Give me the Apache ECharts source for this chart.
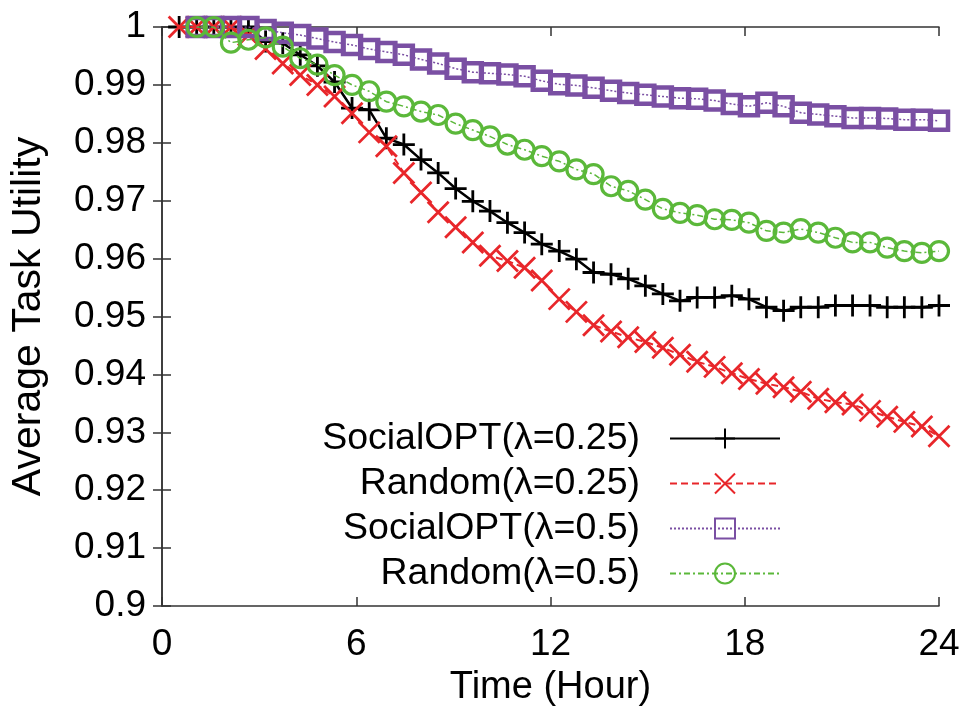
<!DOCTYPE html>
<html>
<head>
<meta charset="utf-8">
<script src="https://cdn.jsdelivr.net/npm/echarts@6/dist/echarts.min.js"></script>
<style>html,body{margin:0;padding:0;background:#fff}#c{width:970px;height:712px}</style>
</head>
<body>
<div id="c"></div>
<script>
// Time (hour) of each sample
const hours = [0.53,1.07,1.6,2.13,2.67,3.2,3.73,4.27,4.8,5.33,5.87,6.4,6.93,7.47,8,8.53,9.07,9.6,10.13,10.67,11.2,11.73,12.27,12.8,13.33,13.87,14.4,14.93,15.47,16,16.53,17.07,17.6,18.13,18.67,19.2,19.73,20.27,20.8,21.33,21.87,22.4,22.93,23.47,24];

const socialOpt025 = [1.0,1.0,1.0,1.0,1.0,0.9975,0.9972,0.9952,0.9933,0.9905,0.986,0.9857,0.9808,0.9797,0.9771,0.9748,0.9721,0.9699,0.9682,0.9662,0.9645,0.9625,0.9613,0.9599,0.9576,0.9573,0.9565,0.9553,0.9539,0.9527,0.9533,0.9533,0.9536,0.953,0.9516,0.951,0.9516,0.9516,0.9519,0.9519,0.9519,0.9516,0.9516,0.9516,0.9519];

const random025 = [1.0,1.0,1.0,1.0,0.9986,0.9962,0.9937,0.9917,0.990,0.988,0.9851,0.9818,0.9794,0.9748,0.9714,0.968,0.9654,0.9628,0.9605,0.9596,0.9584,0.9562,0.953,0.9508,0.9485,0.9474,0.9464,0.9456,0.9446,0.9434,0.9422,0.9413,0.9402,0.9392,0.9384,0.9378,0.937,0.9358,0.9352,0.9348,0.9337,0.9327,0.9318,0.931,0.9293];

const socialOpt05 = [null,1.0,1.0,1.0,1.0,0.9995,0.999,0.9986,0.998,0.9974,0.9969,0.9962,0.9957,0.9952,0.9944,0.9937,0.9928,0.9922,0.992,0.9918,0.9915,0.9907,0.9901,0.9899,0.9895,0.989,0.9886,0.9883,0.988,0.9877,0.9876,0.9873,0.9867,0.9863,0.9869,0.9863,0.9852,0.9849,0.9846,0.9843,0.9843,0.9842,0.984,0.984,0.9838];

const random05 = [null,1.0,1.0,0.9973,0.9978,0.9982,0.9966,0.9946,0.9935,0.9917,0.990,0.9889,0.9871,0.9863,0.9854,0.9848,0.9833,0.9822,0.9811,0.9797,0.9788,0.9777,0.9768,0.9754,0.9746,0.9725,0.9717,0.9702,0.9686,0.9679,0.9675,0.9668,0.9667,0.9662,0.9648,0.9645,0.9651,0.9645,0.9636,0.9628,0.9628,0.9619,0.9613,0.961,0.9613];

const seriesNames = ['SocialOPT(λ=0.25)','Random(λ=0.25)','SocialOPT(λ=0.5)','Random(λ=0.5)'];
const xTicks = [0, 6, 12, 18, 24];
const yTicks = [0.9, 0.91, 0.92, 0.93, 0.94, 0.95, 0.96, 0.97, 0.98, 0.99, 1];

function pairs(vals) { return hours.map((h, i) => [h, vals[i]]); }

const FONT = 'Liberation Sans, Arial, sans-serif';
const axisCol = '#333';
const chart = echarts.init(document.getElementById('c'), null, {renderer: 'canvas'});

const plusPath = 'path://M5,0L5,10M0,5L10,5';
const crossPath = 'path://M0,0L10,10M10,0L0,10';

chart.setOption({
  animation: false,
  backgroundColor: '#fff',
  grid: {left: 162, right: 31, top: 27, bottom: 104, containLabel: false},
  legend: {
    orient: 'vertical',
    right: 189,
    top: 418,
    align: 'right',
    itemWidth: 110,
    itemHeight: 25,
    itemGap: 4,
    padding: 0,
    textStyle: {fontFamily: FONT, fontSize: 37.5, color: '#000', lineHeight: 41, padding: [0, 25, 0, 0]},
    data: seriesNames
  },
  xAxis: [{
    type: 'value', min: 0, max: 24, interval: 6,
    name: 'Time (Hour)', nameLocation: 'middle', nameGap: 63,
    nameTextStyle: {fontFamily: FONT, fontSize: 38, color: '#000'},
    axisLine: {show: true, lineStyle: {color: axisCol, width: 1.5}},
    axisTick: {show: true, inside: true, length: 9, lineStyle: {color: axisCol, width: 1.5}},
    axisLabel: {fontFamily: FONT, fontSize: 37, color: '#000', margin: 20,
      formatter: v => xTicks.includes(v) ? String(v) : ''},
    splitLine: {show: false}
  }, {
    type: 'value', min: 0, max: 24, interval: 6, position: 'top',
    axisLine: {show: true, lineStyle: {color: axisCol, width: 1.5}},
    axisTick: {show: true, inside: true, length: 9, lineStyle: {color: axisCol, width: 1.5}},
    axisLabel: {show: false}, splitLine: {show: false}
  }],
  yAxis: [{
    type: 'value', min: 0.9, max: 1, interval: 0.01,
    name: 'Average Task Utility', nameLocation: 'middle', nameGap: 113,
    nameTextStyle: {fontFamily: FONT, fontSize: 41, color: '#000'},
    axisLine: {show: true, lineStyle: {color: axisCol, width: 1.5}},
    axisTick: {show: true, inside: true, length: 9, lineStyle: {color: axisCol, width: 1.5}},
    axisLabel: {fontFamily: FONT, fontSize: 37, color: '#000', margin: 16,
      formatter: v => {
        const r = +(+v).toFixed(2);
        return yTicks.some(t => Math.abs(t - r) < 1e-9) ? String(r) : '';
      }},
    splitLine: {show: false}
  }, {
    type: 'value', min: 0.9, max: 1, interval: 0.01, position: 'right',
    axisLine: {show: true, lineStyle: {color: axisCol, width: 1.5}},
    axisTick: {show: true, inside: true, length: 9, lineStyle: {color: axisCol, width: 1.5}},
    axisLabel: {show: false}, splitLine: {show: false}
  }],
  series: [
    {
      name: seriesNames[0], type: 'line', data: pairs(socialOpt025),
      symbol: plusPath, symbolSize: 22, showAllSymbol: true, connectNulls: false,
      lineStyle: {color: '#000', width: 2.5, type: 'solid'},
      itemStyle: {color: '#000', borderColor: '#000', borderWidth: 2.8},
      z: 2
    },
    {
      name: seriesNames[1], type: 'line', data: pairs(random025),
      symbol: crossPath, symbolSize: 21, showAllSymbol: true,
      lineStyle: {color: '#e8262a', width: 2, type: [7, 4]},
      itemStyle: {color: '#e8262a', borderColor: '#e8262a', borderWidth: 2.8},
      z: 3
    },
    {
      name: seriesNames[2], type: 'line', data: pairs(socialOpt05),
      symbol: 'rect', symbolSize: 18, showAllSymbol: true,
      lineStyle: {color: '#7a4fa3', width: 1.5, type: [2, 2]},
      itemStyle: {color: 'rgba(255,255,255,0)', borderColor: '#7a4fa3', borderWidth: 4.5},
      z: 4
    },
    {
      name: seriesNames[3], type: 'line', data: pairs(random05),
      symbol: 'circle', symbolSize: 19, showAllSymbol: true,
      lineStyle: {color: '#5bb83a', width: 1.5, type: [6, 3, 2, 3]},
      itemStyle: {color: 'rgba(255,255,255,0)', borderColor: '#5bb83a', borderWidth: 3.2},
      z: 5
    }
  ]
});
</script>
</body>
</html>
